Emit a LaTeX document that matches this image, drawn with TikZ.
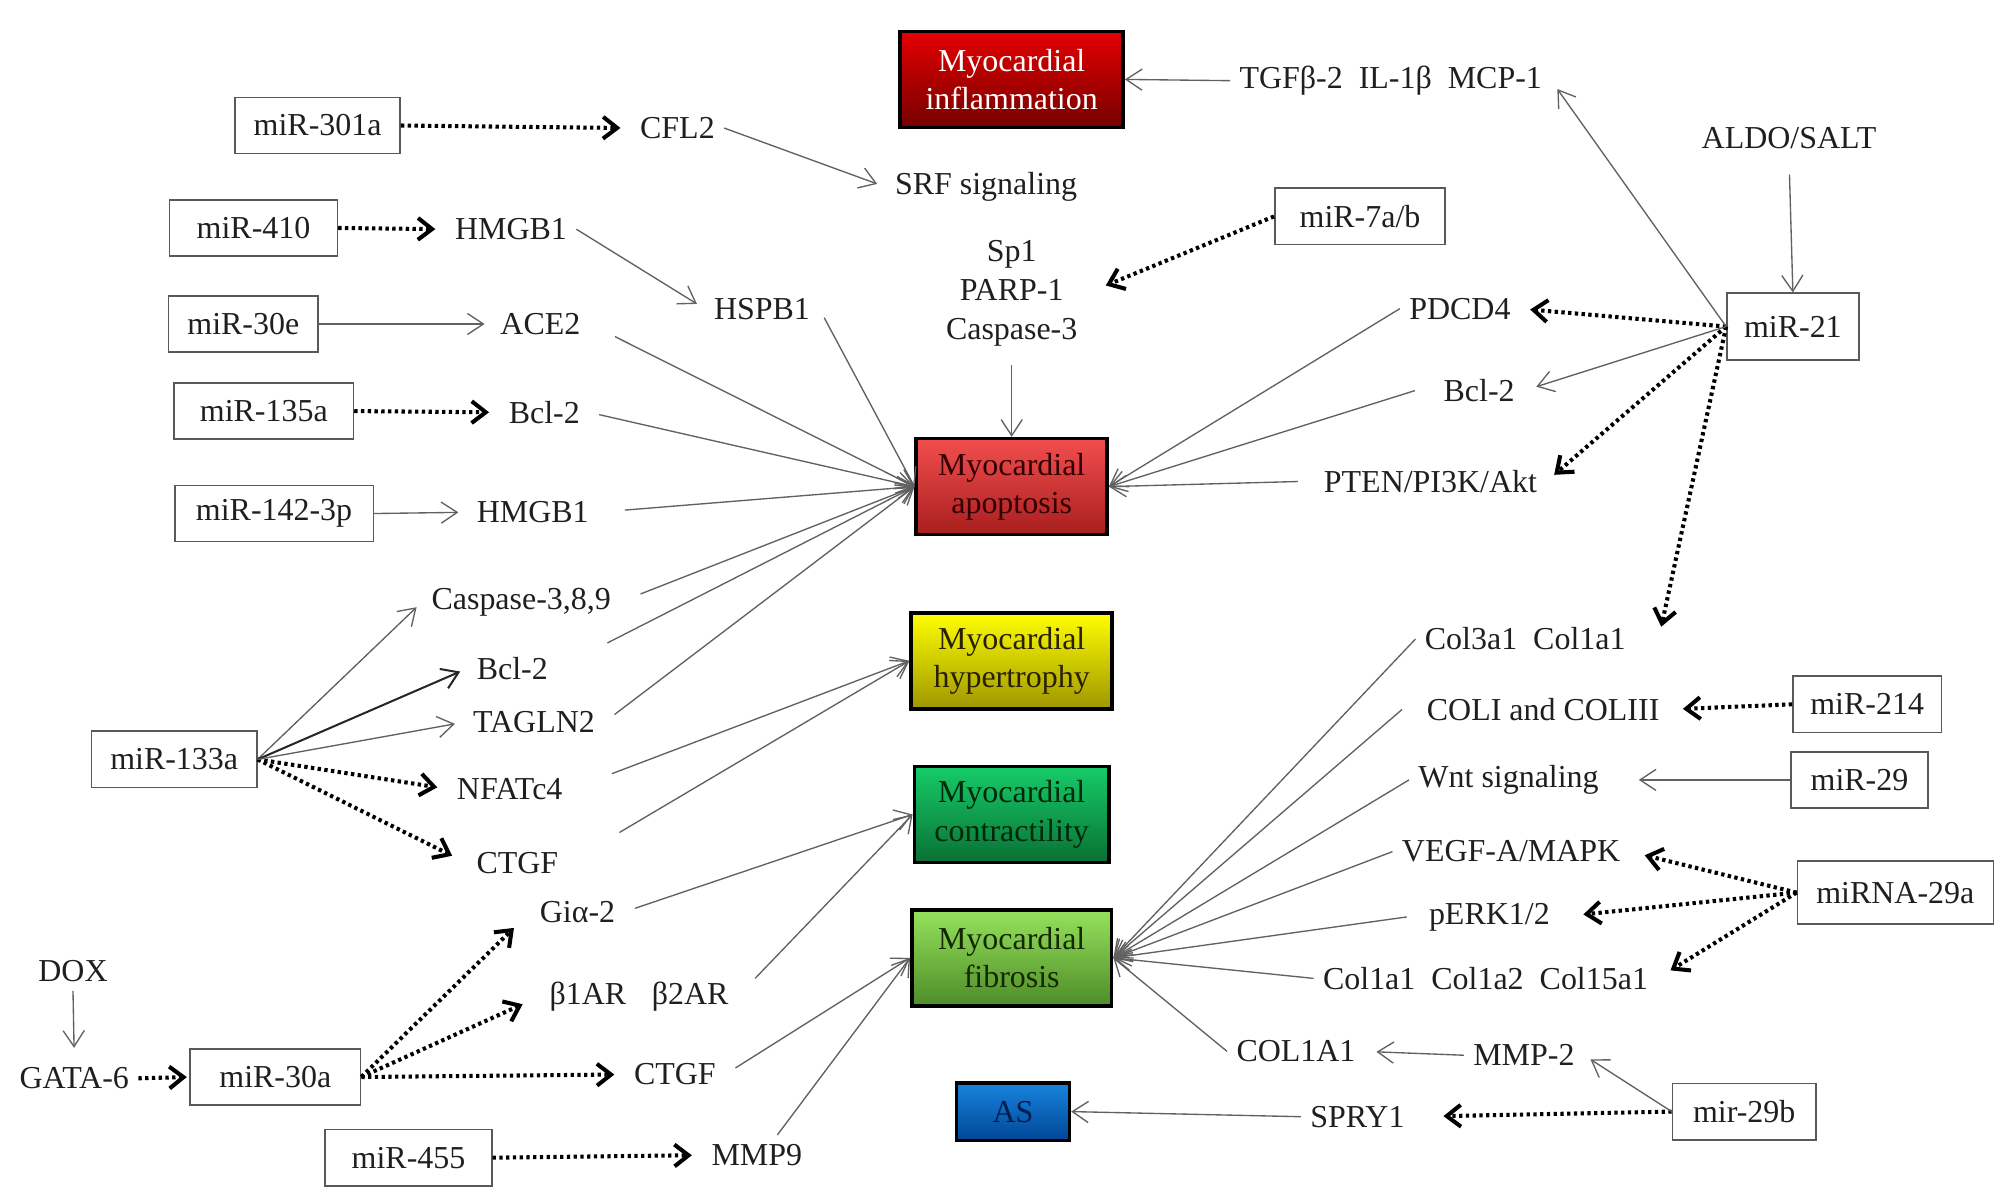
\documentclass[tikz,border=0pt]{standalone}
\usepackage{fontspec}
\setmainfont{Liberation Serif}
\usetikzlibrary{arrows.meta}

% Fill colours of the outcome boxes
\definecolor{inflTop}{RGB}{228,0,0}
\definecolor{inflBot}{RGB}{118,0,0}
\definecolor{apopTop}{RGB}{242,78,78}
\definecolor{apopBot}{RGB}{168,30,30}
\definecolor{hypTop}{RGB}{255,255,0}
\definecolor{hypBot}{RGB}{158,150,0}
\definecolor{conTop}{RGB}{22,204,104}
\definecolor{conBot}{RGB}{10,112,52}
\definecolor{fibTop}{RGB}{150,226,92}
\definecolor{fibBot}{RGB}{78,140,40}
\definecolor{asTop}{RGB}{24,132,222}
\definecolor{asBot}{RGB}{0,70,150}

\begin{document}
\begin{tikzpicture}[x=0.2mm, y=-0.2mm, font=\fontsize{14.2}{16}\selectfont,
  lbl/.style={inner sep=4pt, text=black!88},
  mirbox/.style={draw=black!65, line width=0.7pt, minimum width=#1, minimum height=8.8mm, inner sep=1pt, text=black!88},
  mirbox/.default=26mm,
  outcome/.style={draw=black, line width=1.6pt, minimum height=15mm, inner sep=1pt, align=center, font=\fontsize{14.2}{17}\selectfont},
  solidarr/.style={draw=black!62, line width=0.6pt, shorten >=1.4mm, -{Straight Barb[length=2.5mm, width=3.3mm]}},
  feedarr/.style={solidarr, shorten >=0pt},
  dotarr/.style={draw=black, line width=1.8pt, dash pattern=on 1.5pt off 1.5pt, shorten >=1.6mm, -{Straight Barb[length=2.2mm, width=3.4mm]}}]

\useasboundingbox (0,0) rectangle (1568,939);

% Outcomes
\node[outcome, minimum width=34.8mm, top color=inflTop, bottom color=inflBot, text=white] (infl) at (790,62) {Myocardial\\inflammation};
\node[outcome, minimum width=29.8mm, top color=apopTop, bottom color=apopBot, text={rgb,255:red,50;green,0;blue,0}] (apop) at (790,380) {Myocardial\\apoptosis};
\node[outcome, minimum width=31.4mm, top color=hypTop, bottom color=hypBot, text={rgb,255:red,40;green,32;blue,0}] (hyper) at (790,516) {Myocardial\\hypertrophy};
\node[outcome, minimum width=30.4mm, top color=conTop, bottom color=conBot, text={rgb,255:red,0;green,40;blue,12}] (contr) at (790,636) {Myocardial\\contractility};
\node[outcome, minimum width=31.2mm, top color=fibTop, bottom color=fibBot, text={rgb,255:red,20;green,40;blue,0}] (fibro) at (790,748) {Myocardial\\fibrosis};
\node[outcome, minimum width=17.6mm, minimum height=9mm, top color=asTop, bottom color=asBot, text={rgb,255:red,0;green,30;blue,80}] (athero) at (791,868) {AS};

% microRNA boxes
\node[mirbox=25.8mm] (m301a) at (248,98) {miR-301a};
\node[mirbox=26.2mm] (m410) at (198,178) {miR-410};
\node[mirbox=23.4mm] (m30e) at (190,253) {miR-30e};
\node[mirbox=28mm] (m135a) at (206,321) {miR-135a};
\node[mirbox=31mm] (m142) at (214,401) {miR-142-3p};
\node[mirbox=25.8mm] (m133a) at (136,593) {miR-133a};
\node[mirbox=26.6mm] (m30a) at (215,841) {miR-30a};
\node[mirbox=26mm] (m455) at (319,904) {miR-455};
\node[mirbox=26.6mm] (m7ab) at (1062,169) {miR-7a/b};
\node[mirbox=20.6mm, minimum height=10.4mm] (m21) at (1400,255) {miR-21};
\node[mirbox=23.2mm] (m214) at (1458,550) {miR-214};
\node[mirbox=21.4mm] (m29) at (1452,609) {miR-29};
\node[mirbox=30.6mm, minimum height=9.8mm] (m29a) at (1480,697) {miRNA-29a};
\node[mirbox=22.4mm] (m29b) at (1362,868) {mir-29b};

% Targets, left
\node[lbl] (cfl2) at (529,100) {CFL2};
\node[lbl] (srf) at (770,146) {SRF signaling};
\node[lbl] (hmgb1a) at (399,179) {HMGB1};
\node[lbl] (hspb1) at (595,241) {HSPB1};
\node[lbl] (ace2) at (422,253) {ACE2};
\node[lbl] (bcl2a) at (425,322) {Bcl-2};
\node[lbl] (hmgb1b) at (416,400) {HMGB1};
\node[lbl, align=center, font=\fontsize{14.2}{17.2}\selectfont] (sp1) at (790,229) {Sp1\\PARP-1\\Caspase-3};
\node[lbl] (casp389) at (407,470) {Caspase-3,8,9};
\node[lbl] (bcl2b) at (400,522) {Bcl-2};
\node[lbl] (tagln2) at (417,564) {TAGLN2};
\node[lbl] (nfatc4) at (398,616) {NFATc4};
\node[lbl] (ctgfa) at (404,674) {CTGF};
\node[lbl] (gia2) at (451,712) {Giα-2};
\node[lbl] (dox) at (57,758) {DOX};
\node[lbl] (gata6) at (58,842) {GATA-6};
\node[lbl] (beta) at (499,778) {β1AR\hspace{.8em}β2AR};
\node[lbl] (ctgfb) at (527,839) {CTGF};
\node[lbl] (mmp9) at (591,902) {MMP9};

% Targets, right
\node[lbl] (tgf) at (1086,63) {TGFβ-2\enspace IL-1β\enspace MCP-1};
\node[lbl] (aldo) at (1397,108) {ALDO/SALT};
\node[lbl] (pdcd4) at (1140,241) {PDCD4};
\node[lbl] (bcl2c) at (1155,305) {Bcl-2};
\node[lbl] (pten) at (1117,376) {PTEN/PI3K/Akt};
\node[lbl] (col3) at (1191,499) {Col3a1~~Col1a1};
\node[lbl] (coli) at (1205,554) {COLI and COLIII};
\node[lbl] (wnt) at (1178,609) {Wnt signaling};
\node[lbl] (vegf) at (1180,665) {VEGF-A/MAPK};
\node[lbl] (perk) at (1163,716) {pERK1/2};
\node[lbl] (colrow) at (1160,764) {Col1a1\enspace Col1a2\enspace Col15a1};
\node[lbl] (col1a1) at (1012,821) {COL1A1};
\node[lbl] (mmp2) at (1190,824) {MMP-2};
\node[lbl] (spry1) at (1060,872) {SPRY1};

% Dotted arrows
\draw[dotarr] (m301a.east) -- (cfl2.west);
\draw[dotarr] (m410.east) -- (hmgb1a.west);
\draw[dotarr] (m135a.east) -- (bcl2a.west);
\draw[dotarr, shorten >=3.2mm] (m7ab.west) -- (sp1.east);
\draw[dotarr] (m21.west) -- (pdcd4.east);
\draw[dotarr] (m21.west) -- (pten.east);
\draw[dotarr, shorten >=0.5mm] (m21.west) -- ([xshift=4mm, yshift=-1.8mm]col3.north east);
\draw[dotarr] (m133a.east) -- (nfatc4.west);
\draw[dotarr, shorten >=2.6mm] (m133a.east) -- (ctgfa.west);
\draw[dotarr, shorten >=0.4mm] (gata6.east) -- (m30a.west);
\draw[dotarr, shorten >=3.6mm] (m30a.east) -- (gia2.west);
\draw[dotarr, shorten >=3mm] (m30a.east) -- (beta.west);
\draw[dotarr] (m30a.east) -- (ctgfb.west);
\draw[dotarr] (m455.east) -- (mmp9.west);
\draw[dotarr, shorten >=2.2mm] (m214.west) -- (coli.east);
\draw[dotarr, shorten >=2.4mm] (m29a.west) -- (vegf.east);
\draw[dotarr, shorten >=3.8mm] (m29a.west) -- (perk.east);
\draw[dotarr, shorten >=2.4mm] (m29a.west) -- (colrow.east);
\draw[dotarr, shorten >=4.6mm] (m29b.west) -- (spry1.east);

% Solid arrows between factors
\draw[solidarr] (cfl2.east) -- (srf.west);
\draw[solidarr] (hmgb1a.east) -- (hspb1.west);
\draw[solidarr, shorten >=1mm] (m30e.east) -- (ace2.west);
\draw[solidarr] (m142.east) -- (hmgb1b.west);
\draw[solidarr, shorten >=1.6mm] (m21.west) -- (tgf.east);
\draw[solidarr, shorten >=2mm] (m21.west) -- (bcl2c.east);
\draw[feedarr, shorten <=2.5mm] (aldo.south) -- (m21.north);
\draw[solidarr, shorten >=1.2mm] (m133a.east) -- (casp389.west);
\draw[solidarr, shorten >=1.2mm, draw=black!85, line width=0.9pt] (m133a.east) -- (bcl2b.west);
\draw[solidarr] (m133a.east) -- (tagln2.west);
\draw[solidarr, shorten >=1.6mm] (dox.south) -- (gata6.north);
\draw[solidarr, shorten >=4.8mm] (m29.west) -- (wnt.east);
\draw[solidarr, shorten >=1.8mm] (mmp2.west) -- (col1a1.east);
\draw[solidarr, shorten >=1.2mm] (m29b.west) -- (mmp2.east);

% Into the outcome boxes
\draw[feedarr] (tgf.west) -- (infl.east);
\draw[feedarr, shorten <=4.4mm] (ace2.east) -- (apop.west);
\draw[feedarr, shorten <=1.6mm] (bcl2a.east) -- (apop.west);
\draw[feedarr, shorten <=4.2mm] (hmgb1b.east) -- (apop.west);
\draw[feedarr, shorten <=1.6mm] (hspb1.east) -- (apop.west);
\draw[feedarr, shorten <=1.5mm] (sp1.south) -- (apop.north);
\draw[feedarr, shorten <=3.4mm] (casp389.east) -- (apop.west);
\draw[feedarr, shorten <=8.8mm] (bcl2b.east) -- (apop.west);
\draw[feedarr, shorten <=2mm] (tagln2.east) -- (apop.west);
\draw[feedarr] (pdcd4.west) -- (apop.east);
\draw[feedarr] ([xshift=-3mm]bcl2c.west) -- (apop.east);
\draw[feedarr] ([xshift=-2.6mm]pten.west) -- (apop.east);
\draw[feedarr, shorten <=6.7mm] (nfatc4.east) -- (hyper.west);
\draw[feedarr, shorten <=9.4mm] (ctgfa.east) -- (hyper.west);
\draw[feedarr, shorten <=1.7mm] (gia2.east) -- (contr.west);
\draw[feedarr, shorten <=3.9mm] (beta.east) -- (contr.west);
\draw[feedarr, shorten <=1.9mm] (ctgfb.east) -- (fibro.west);
\draw[feedarr] ([xshift=3.2mm]mmp9.north) -- (fibro.west);
\draw[feedarr] (col3.west) -- (fibro.east);
\draw[feedarr] ([xshift=-2.4mm]coli.west) -- (fibro.east);
\draw[feedarr] (wnt.west) -- (fibro.east);
\draw[feedarr] (vegf.west) -- (fibro.east);
\draw[feedarr] ([xshift=-2mm]perk.west) -- (fibro.east);
\draw[feedarr] (colrow.west) -- (fibro.east);
\draw[feedarr] (col1a1.west) -- (fibro.east);
\draw[feedarr] (spry1.west) -- (athero.east);

\end{tikzpicture}
\end{document}
